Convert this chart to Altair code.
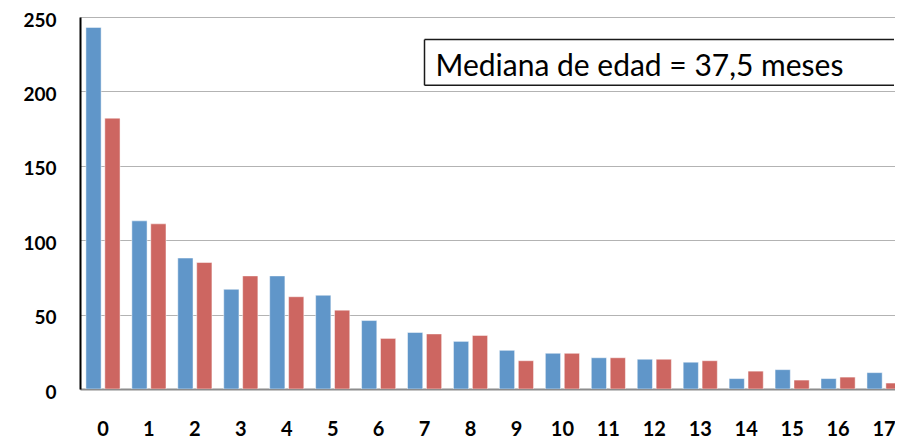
import altair as alt
import pandas as pd

categories = [str(i) for i in range(18)]
series_names = ["Serie 1", "Serie 2"]
serie1 = [243, 113, 88, 67, 76, 63, 46, 38, 32, 26, 24, 21, 20, 18, 7, 13, 7, 11]
serie2 = [182, 111, 85, 76, 62, 53, 34, 37, 36, 19, 24, 21, 20, 19, 12, 6, 8, 4]
y_ticks = [0, 50, 100, 150, 200, 250]
colors = ["#6096C9", "#CD6661"]

annot_text = ["Mediana de edad = 37,5 meses"]
annot_box_top = [234.8]
annot_box_bottom = [204.1]
annot_text_y = [210.3]

rows = []
for c, a, b in zip(categories, serie1, serie2):
    rows.append({"cat": c, "serie": series_names[0], "value": a})
    rows.append({"cat": c, "serie": series_names[1], "value": b})
df = pd.DataFrame(rows)

W = 815
H = 372
YS = alt.Scale(domain=[0, 250], nice=False)

x_enc = alt.X(
    "cat:N",
    sort=categories,
    scale=alt.Scale(paddingInner=0.257, paddingOuter=0.1285, range=[0, 827]),
    axis=alt.Axis(
        title=None,
        labelAngle=0,
        ticks=False,
        domainColor="#8C8C8C",
        domainWidth=2,
        labelFont="Lato",
        labelFontSize=20,
        labelFontWeight="bold",
        labelColor="black",
        labelPadding=30,
        grid=False,
    ),
)

y_enc = alt.Y(
    "value:Q",
    scale=YS,
    axis=alt.Axis(
        title=None,
        values=y_ticks,
        ticks=False,
        domainColor="black",
        domainWidth=2,
        grid=True,
        gridColor="#B3B3B3",
        gridWidth=1,
        labelFont="Lato",
        labelFontSize=19,
        labelFontWeight="bold",
        labelColor="black",
        labelPadding=24,
        labelOffset=3,
    ),
)

bars = alt.Chart(df).mark_bar(stroke="white", strokeWidth=0.8, strokeOpacity=0.6, clip=True).encode(
    x=x_enc,
    xOffset=alt.XOffset("serie:N", sort=series_names,
                        scale=alt.Scale(paddingInner=0.195, paddingOuter=0)),
    y=y_enc,
    color=alt.Color("serie:N", scale=alt.Scale(domain=series_names, range=colors), legend=None),
)

annot_df = pd.DataFrame({
    "text": annot_text,
    "top": annot_box_top,
    "bottom": annot_box_bottom,
    "ty": annot_text_y,
})

box_fill = alt.Chart(annot_df).mark_rect(fill="white").encode(
    x=alt.value(344.5),
    x2=alt.value(W - 1),
    y=alt.Y("top:Q", scale=YS),
    y2="bottom:Q",
)

box_top = alt.Chart(annot_df).mark_rule(color="#1A1A1A", strokeWidth=1.5).encode(
    x=alt.value(344.5),
    x2=alt.value(W - 1),
    y=alt.Y("top:Q", scale=YS),
)

box_bottom = alt.Chart(annot_df).mark_rule(color="#1A1A1A", strokeWidth=1.5).encode(
    x=alt.value(344.5),
    x2=alt.value(W - 1),
    y=alt.Y("bottom:Q", scale=YS),
)

box_left = alt.Chart(annot_df).mark_rule(color="#1A1A1A", strokeWidth=1.5).encode(
    x=alt.value(344.5),
    y=alt.Y("top:Q", scale=YS),
    y2="bottom:Q",
)

label = alt.Chart(annot_df).mark_text(
    align="left", baseline="alphabetic", font="Lato", fontSize=30, color="black"
).encode(
    x=alt.value(355.5),
    y=alt.Y("ty:Q", scale=YS),
    text="text:N",
)

chart = alt.layer(bars, box_fill, box_top, box_bottom, box_left, label).properties(
    width=W,
    height=H,
    autosize=alt.AutoSizeParams(type="none"),
    padding={"left": 72, "top": 9, "right": 0, "bottom": 50},
).configure_view(strokeWidth=0).configure(background="white")

chart.save("out.html", embed_options={"renderer": "svg", "actions": False})
